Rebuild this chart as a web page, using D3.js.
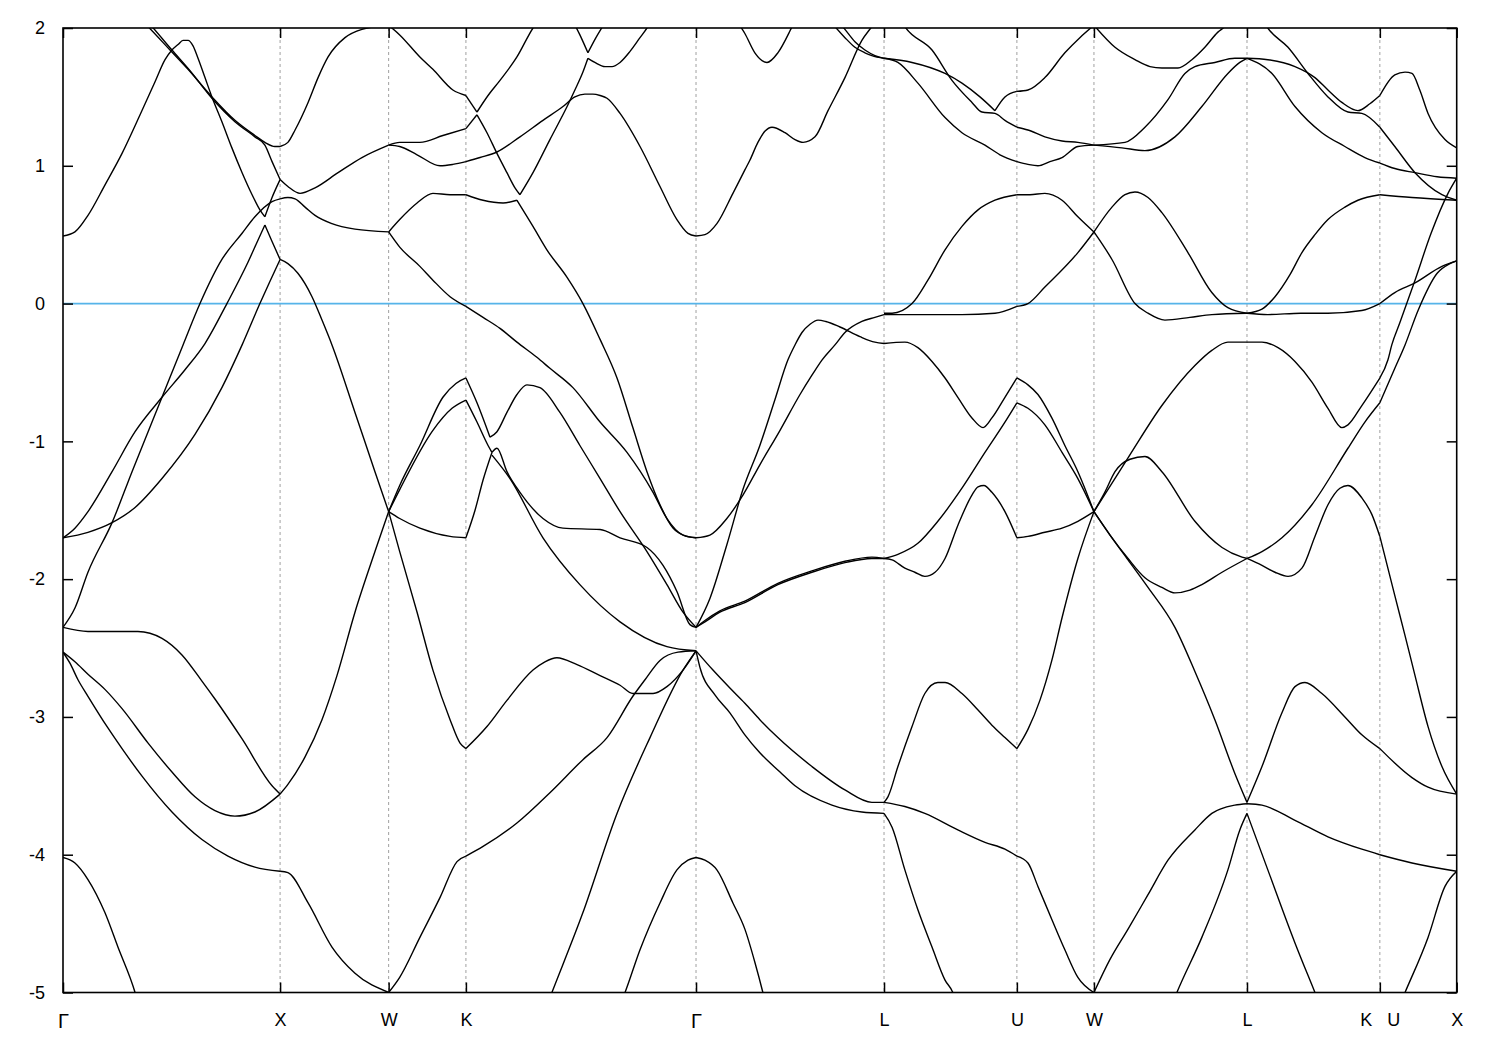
<!DOCTYPE html>
<html><head><meta charset="utf-8">
<script src="https://cdn.jsdelivr.net/npm/d3@7"></script>
<style>
body{margin:0;background:#fff}
text{font-family:"Liberation Sans",Arial,sans-serif;}
</style>
</head><body>
<svg id="chart" width="1500" height="1050"></svg>
<script>
// High-symmetry points (path distance, 2pi/a units) and labels
const kTicks  = [0, 1.0, 1.5, 1.856, 2.916, 3.782, 4.394, 4.749, 5.454, 6.066, 6.42];
const kLabels = ["Γ","X","W","K","Γ","L","U","W","L","K   U","X"];
const eTicks  = [2, 1, 0, -1, -2, -3, -4, -5];

// Bands, segment by segment: each curve is a list of [k, E(eV)]
const segGX = [
 [[0,0.49],[0.055,0.52],[0.115,0.64],[0.193,0.86],[0.272,1.09],[0.355,1.37],[0.424,1.61],[0.470,1.77],[0.502,1.84],[0.530,1.88],[0.553,1.91],[0.576,1.91],[0.599,1.87],[0.622,1.78],[0.654,1.64],[0.686,1.50],[0.732,1.32],[0.778,1.13],[0.825,0.95],[0.871,0.79],[0.907,0.68],[0.930,0.63]],
 [[0.930,0.63],[0.963,0.77],[1.0,0.90]],
 [[0.318,2.13],[0.392,2.01],[0.493,1.84],[0.576,1.70],[0.686,1.50],[0.792,1.33],[0.884,1.22],[0.930,1.17],[0.976,1.14],[1.0,1.14]],
 [[0.341,2.13],[0.410,2.01],[0.502,1.84],[0.585,1.69],[0.686,1.49],[0.792,1.32],[0.884,1.21],[0.930,1.15],[0.963,1.03],[1.0,0.90]],
 [[0,-2.35],[0.055,-2.21],[0.115,-1.95],[0.226,-1.59],[0.318,-1.22],[0.456,-0.68],[0.553,-0.30],[0.631,0.00],[0.732,0.32],[0.825,0.51],[0.884,0.63],[0.963,0.74],[1.0,0.76]],
 [[0,-1.70],[0.055,-1.63],[0.115,-1.51],[0.226,-1.22],[0.332,-0.93],[0.456,-0.68],[0.562,-0.48],[0.654,-0.29],[0.755,0.00],[0.852,0.30],[0.898,0.46],[0.930,0.57]],
 [[0.930,0.57],[0.963,0.45],[1.0,0.32]],
 [[0,-1.70],[0.115,-1.66],[0.226,-1.59],[0.332,-1.48],[0.456,-1.27],[0.608,-0.95],[0.732,-0.61],[0.825,-0.30],[0.907,0.00],[0.953,0.16],[1.0,0.32]],
 [[0,-2.35],[0.115,-2.38],[0.226,-2.38],[0.345,-2.38],[0.456,-2.43],[0.548,-2.55],[0.640,-2.74],[0.700,-2.87],[0.825,-3.16],[0.963,-3.50],[1.0,-3.56]],
 [[0,-2.53],[0.055,-2.60],[0.115,-2.69],[0.193,-2.80],[0.272,-2.94],[0.392,-3.19],[0.502,-3.40],[0.608,-3.58],[0.700,-3.68],[0.792,-3.72],[0.884,-3.69],[1.0,-3.56]],
 [[0,-2.53],[0.032,-2.61],[0.069,-2.73],[0.115,-2.85],[0.207,-3.08],[0.272,-3.23],[0.364,-3.43],[0.502,-3.69],[0.640,-3.89],[0.760,-4.01],[0.884,-4.09],[1.0,-4.12]],
 [[0,-4.02],[0.055,-4.06],[0.115,-4.18],[0.193,-4.42],[0.253,-4.67],[0.332,-5.00],[0.355,-5.13]]
];
const segXW = [
 [[1.0,1.14],[1.036,1.17],[1.069,1.26],[1.129,1.46],[1.175,1.64],[1.221,1.79],[1.299,1.93],[1.377,1.99],[1.5,2.02]],
 [[1.0,0.90],[1.036,0.85],[1.092,0.80],[1.161,0.84],[1.267,0.95],[1.377,1.06],[1.5,1.15]],
 [[1.0,0.76],[1.036,0.77],[1.069,0.76],[1.115,0.70],[1.161,0.64],[1.239,0.58],[1.345,0.54],[1.5,0.52]],
 [[1.0,0.32],[1.036,0.29],[1.082,0.22],[1.147,0.05],[1.193,-0.12],[1.239,-0.30],[1.345,-0.79],[1.437,-1.22],[1.5,-1.51]],
 [[1.0,-3.56],[1.036,-3.49],[1.115,-3.29],[1.193,-3.02],[1.262,-2.70],[1.345,-2.24],[1.437,-1.80],[1.5,-1.51]],
 [[1.0,-4.12],[1.036,-4.13],[1.129,-4.35],[1.239,-4.67],[1.345,-4.86],[1.5,-5.0]]
];
const segWK = [
 [[1.5,2.02],[1.551,1.95],[1.644,1.79],[1.704,1.70],[1.796,1.55],[1.856,1.51]],
 [[1.5,1.15],[1.551,1.17],[1.644,1.17],[1.750,1.22],[1.856,1.27]],
 [[1.5,1.15],[1.551,1.14],[1.631,1.08],[1.737,1.00],[1.796,1.01],[1.856,1.03]],
 [[1.5,0.52],[1.551,0.61],[1.631,0.73],[1.704,0.80],[1.783,0.79],[1.856,0.79]],
 [[1.5,0.52],[1.551,0.41],[1.644,0.27],[1.704,0.17],[1.783,0.05],[1.856,-0.02]],
 [[1.5,-1.51],[1.551,-1.32],[1.644,-1.03],[1.750,-0.68],[1.810,-0.58],[1.856,-0.54]],
 [[1.5,-1.51],[1.551,-1.35],[1.704,-0.92],[1.792,-0.76],[1.856,-0.70]],
 [[1.5,-1.51],[1.551,-1.56],[1.644,-1.63],[1.783,-1.69],[1.856,-1.70]],
 [[1.5,-1.51],[1.551,-1.80],[1.631,-2.24],[1.704,-2.66],[1.783,-3.02],[1.829,-3.19],[1.856,-3.23]],
 [[1.5,-5.0],[1.551,-4.89],[1.644,-4.60],[1.737,-4.31],[1.815,-4.05],[1.856,-4.01]]
];
const segKG = [
 [[1.856,1.51],[1.907,1.39]],
 [[1.907,1.39],[1.958,1.51],[2.013,1.62],[2.091,1.79],[2.165,2.00],[2.197,2.07]],
 [[1.856,1.27],[1.907,1.37]],
 [[1.907,1.37],[1.953,1.24],[1.999,1.09],[2.045,0.95],[2.082,0.84],[2.105,0.79]],
 [[2.105,0.79],[2.165,0.95],[2.243,1.19],[2.322,1.43],[2.358,1.55],[2.395,1.68],[2.418,1.78]],
 [[2.418,1.78],[2.450,1.75],[2.497,1.72],[2.529,1.72],[2.566,1.75],[2.612,1.83],[2.658,1.93],[2.690,2.00],[2.713,2.06]],
 [[2.345,2.06],[2.381,1.95],[2.418,1.82]],
 [[2.418,1.82],[2.455,1.93],[2.497,2.04]],
 [[1.856,1.03],[1.921,1.06],[1.999,1.10],[2.105,1.21],[2.211,1.33],[2.303,1.43],[2.358,1.50],[2.404,1.52],[2.441,1.52],[2.474,1.51],[2.506,1.49],[2.566,1.38],[2.658,1.14],[2.750,0.85],[2.828,0.61],[2.879,0.51],[2.916,0.49]],
 [[1.856,0.79],[1.935,0.75],[2.027,0.73],[2.091,0.75]],
 [[2.091,0.75],[2.165,0.56],[2.229,0.39],[2.322,0.19],[2.395,0.00],[2.474,-0.26],[2.552,-0.54],[2.625,-0.90],[2.690,-1.22],[2.750,-1.46],[2.810,-1.63],[2.874,-1.69],[2.916,-1.70]],
 [[1.856,-0.02],[1.935,-0.10],[2.013,-0.18],[2.091,-0.28],[2.183,-0.39],[2.243,-0.47],[2.349,-0.61],[2.474,-0.86],[2.598,-1.08],[2.718,-1.37],[2.782,-1.56],[2.856,-1.68],[2.916,-1.70]],
 [[1.856,-0.54],[1.907,-0.72],[1.967,-0.97]],
 [[1.967,-0.97],[1.999,-0.93],[2.045,-0.79],[2.091,-0.66],[2.137,-0.59],[2.197,-0.61],[2.289,-0.79],[2.381,-1.03],[2.474,-1.27],[2.566,-1.51],[2.690,-1.80],[2.782,-2.04],[2.856,-2.24],[2.916,-2.35]],
 [[1.856,-0.70],[1.907,-0.86],[1.958,-1.03],[1.976,-1.08]],
 [[1.976,-1.08],[1.999,-1.05],[2.045,-1.22],[2.105,-1.37],[2.211,-1.56],[2.303,-1.63],[2.474,-1.64],[2.566,-1.70],[2.690,-1.77],[2.764,-1.90],[2.828,-2.09],[2.888,-2.33],[2.916,-2.35]],
 [[1.856,-1.70],[1.898,-1.50],[1.935,-1.28],[1.976,-1.08]],
 [[1.976,-1.10],[2.059,-1.27],[2.211,-1.70],[2.381,-2.04],[2.566,-2.31],[2.782,-2.49],[2.916,-2.52]],
 [[1.856,-3.23],[1.953,-3.07],[2.045,-2.88],[2.165,-2.66],[2.220,-2.60],[2.275,-2.57],[2.368,-2.62],[2.474,-2.70],[2.566,-2.77],[2.625,-2.83],[2.658,-2.83],[2.718,-2.83],[2.782,-2.78],[2.856,-2.66],[2.916,-2.52]],
 [[1.856,-4.01],[1.935,-3.94],[2.091,-3.77],[2.243,-3.55],[2.395,-3.31],[2.506,-3.15],[2.625,-2.85],[2.681,-2.73],[2.750,-2.59],[2.833,-2.53],[2.916,-2.52]],
 [[2.220,-5.13],[2.252,-5.00],[2.395,-4.42],[2.552,-3.70],[2.704,-3.15],[2.856,-2.66],[2.916,-2.52]],
 [[2.556,-5.13],[2.589,-5.00],[2.658,-4.69],[2.750,-4.35],[2.828,-4.11],[2.879,-4.04],[2.916,-4.02]]
];
const segGL = [
 [[2.916,0.49],[2.957,0.50],[3.012,0.58],[3.086,0.80],[3.141,0.97],[3.164,1.04],[3.201,1.17],[3.233,1.25],[3.266,1.28],[3.326,1.24],[3.372,1.19],[3.409,1.17],[3.464,1.21],[3.524,1.40],[3.602,1.64],[3.680,1.91],[3.726,2.01],[3.754,2.07]],
 [[3.095,2.07],[3.141,1.96],[3.187,1.82],[3.243,1.75],[3.293,1.82],[3.349,1.98],[3.376,2.07]],
 [[3.524,2.07],[3.556,2.01],[3.602,1.93],[3.648,1.86],[3.694,1.82],[3.726,1.80],[3.782,1.78]],
 [[3.561,2.07],[3.602,1.99],[3.648,1.90],[3.694,1.84],[3.740,1.80],[3.782,1.78]],
 [[2.916,-1.70],[2.980,-1.68],[3.058,-1.56],[3.132,-1.39],[3.210,-1.17],[3.303,-0.92],[3.395,-0.66],[3.450,-0.52],[3.496,-0.41],[3.556,-0.30],[3.602,-0.21],[3.680,-0.13],[3.740,-0.10],[3.782,-0.08]],
 [[2.916,-2.35],[2.980,-2.14],[3.058,-1.75],[3.132,-1.35],[3.210,-1.03],[3.279,-0.70],[3.339,-0.41],[3.372,-0.30],[3.404,-0.21],[3.441,-0.15],[3.478,-0.12],[3.514,-0.13],[3.579,-0.17],[3.671,-0.24],[3.740,-0.28],[3.782,-0.29]],
 [[2.916,-2.35],[2.957,-2.31],[3.026,-2.24],[3.141,-2.17],[3.293,-2.04],[3.450,-1.95],[3.602,-1.88],[3.726,-1.85],[3.782,-1.85]],
 [[2.916,-2.35],[2.957,-2.30],[3.026,-2.23],[3.141,-2.16],[3.293,-2.03],[3.450,-1.94],[3.602,-1.87],[3.726,-1.84],[3.782,-1.85]],
 [[2.916,-2.52],[2.994,-2.66],[3.072,-2.79],[3.141,-2.90],[3.210,-3.02],[3.293,-3.15],[3.450,-3.36],[3.602,-3.53],[3.726,-3.62],[3.782,-3.62]],
 [[2.916,-2.52],[2.934,-2.64],[3.003,-2.84],[3.072,-2.97],[3.141,-3.13],[3.210,-3.26],[3.303,-3.40],[3.372,-3.50],[3.542,-3.64],[3.680,-3.69],[3.782,-3.70]],
 [[2.916,-4.02],[2.957,-4.04],[3.012,-4.11],[3.086,-4.35],[3.141,-4.54],[3.187,-4.78],[3.224,-5.00],[3.238,-5.09]]
];
const segLU = [
 [[3.782,1.78],[3.911,1.75],[4.063,1.67],[4.141,1.60],[4.224,1.50],[4.293,1.40]],
 [[4.293,1.40],[4.339,1.50],[4.394,1.54]],
 [[3.782,1.78],[3.846,1.75],[3.938,1.60],[4.063,1.35],[4.141,1.24],[4.247,1.15],[4.316,1.08],[4.394,1.03]],
 [[3.855,2.07],[3.878,2.01],[4.003,1.84],[4.095,1.62],[4.187,1.46],[4.233,1.39],[4.293,1.38],[4.339,1.33],[4.394,1.28]],
 [[3.782,-0.07],[3.819,-0.07],[3.911,0.00],[3.984,0.17],[4.063,0.39],[4.141,0.56],[4.215,0.68],[4.293,0.75],[4.394,0.79]],
 [[3.782,-0.08],[3.911,-0.08],[4.141,-0.08],[4.293,-0.07],[4.394,-0.02]],
 [[3.782,-0.29],[3.878,-0.28],[3.938,-0.32],[4.003,-0.42],[4.063,-0.54],[4.122,-0.68],[4.187,-0.83],[4.238,-0.90],[4.279,-0.83],[4.339,-0.68],[4.394,-0.54]],
 [[3.782,-1.85],[3.846,-1.82],[3.938,-1.74],[4.030,-1.58],[4.141,-1.34],[4.247,-1.08],[4.339,-0.86],[4.394,-0.72]],
 [[3.782,-1.85],[3.819,-1.86],[3.878,-1.92],[3.924,-1.95],[3.970,-1.98],[4.017,-1.95],[4.063,-1.85],[4.122,-1.61],[4.187,-1.39],[4.215,-1.33],[4.242,-1.32],[4.279,-1.37],[4.339,-1.51],[4.394,-1.70]],
 [[3.782,-3.62],[3.800,-3.58],[3.846,-3.36],[3.911,-3.07],[3.970,-2.83],[4.030,-2.75],[4.063,-2.75],[4.141,-2.83],[4.215,-2.95],[4.279,-3.06],[4.339,-3.15],[4.394,-3.23]],
 [[3.782,-3.62],[3.878,-3.65],[3.970,-3.70],[4.122,-3.82],[4.247,-3.91],[4.339,-3.96],[4.394,-4.01]],
 [[3.782,-3.70],[3.819,-3.80],[3.878,-4.11],[3.938,-4.40],[4.003,-4.67],[4.063,-4.91],[4.099,-5.00],[4.118,-5.09]]
];
const segUW = [
 [[4.394,1.54],[4.445,1.55],[4.523,1.64],[4.615,1.82],[4.684,1.93],[4.749,2.02]],
 [[4.394,1.28],[4.445,1.26],[4.523,1.21],[4.602,1.18],[4.675,1.17],[4.749,1.15]],
 [[4.394,1.03],[4.445,1.01],[4.491,1.00],[4.546,1.03],[4.602,1.06],[4.675,1.14],[4.749,1.15]],
 [[4.394,0.79],[4.454,0.79],[4.523,0.80],[4.602,0.75],[4.675,0.63],[4.749,0.52]],
 [[4.394,-0.02],[4.445,0.00],[4.523,0.12],[4.675,0.37],[4.749,0.52]],
 [[4.394,-0.54],[4.445,-0.59],[4.491,-0.66],[4.555,-0.83],[4.615,-1.03],[4.675,-1.22],[4.749,-1.51]],
 [[4.394,-0.72],[4.445,-0.76],[4.523,-0.88],[4.602,-1.08],[4.675,-1.27],[4.749,-1.51]],
 [[4.394,-1.70],[4.445,-1.69],[4.523,-1.66],[4.602,-1.63],[4.675,-1.58],[4.749,-1.51]],
 [[4.394,-3.23],[4.445,-3.09],[4.500,-2.88],[4.555,-2.59],[4.602,-2.28],[4.675,-1.85],[4.749,-1.51]],
 [[4.394,-4.01],[4.445,-4.06],[4.491,-4.23],[4.555,-4.47],[4.615,-4.69],[4.675,-4.89],[4.749,-5.00]]
];
const segWL = [
 [[4.749,2.02],[4.846,1.86],[4.938,1.77],[5.007,1.72],[5.062,1.71],[5.136,1.71],[5.200,1.77],[5.260,1.86],[5.320,1.97],[5.352,2.01],[5.384,2.07]],
 [[4.749,1.15],[4.892,1.17],[4.984,1.28],[5.090,1.48],[5.168,1.67],[5.214,1.72],[5.306,1.75],[5.398,1.78],[5.454,1.78]],
 [[4.749,1.15],[4.878,1.13],[4.984,1.11],[5.122,1.21],[5.246,1.43],[5.366,1.67],[5.421,1.75],[5.454,1.78]],
 [[4.749,0.52],[4.832,0.70],[4.892,0.79],[4.938,0.81],[4.998,0.77],[5.062,0.66],[5.182,0.37],[5.292,0.08],[5.366,-0.03],[5.454,-0.07]],
 [[4.749,0.52],[4.832,0.32],[4.938,0.00],[4.998,-0.07],[5.076,-0.12],[5.191,-0.10],[5.292,-0.08],[5.454,-0.07]],
 [[4.749,-1.51],[4.906,-1.12],[5.062,-0.74],[5.214,-0.45],[5.292,-0.34],[5.366,-0.28],[5.454,-0.28]],
 [[4.749,-1.51],[4.799,-1.37],[4.846,-1.22],[4.915,-1.13],[4.984,-1.11],[5.062,-1.22],[5.214,-1.58],[5.339,-1.77],[5.431,-1.84],[5.454,-1.85]],
 [[4.749,-1.51],[4.823,-1.68],[4.906,-1.85],[4.984,-1.99],[5.062,-2.06],[5.122,-2.10],[5.191,-2.08],[5.246,-2.04],[5.339,-1.95],[5.454,-1.85]],
 [[4.749,-1.51],[4.823,-1.68],[4.906,-1.86],[4.998,-2.06],[5.122,-2.35],[5.214,-2.67],[5.306,-3.02],[5.398,-3.41],[5.454,-3.62]],
 [[4.749,-5.00],[4.823,-4.76],[4.906,-4.54],[4.998,-4.29],[5.090,-4.04],[5.214,-3.82],[5.292,-3.70],[5.398,-3.64],[5.454,-3.63]],
 [[5.108,-5.09],[5.131,-5.00],[5.246,-4.60],[5.366,-4.11],[5.421,-3.82],[5.454,-3.70]]
];
const segLK = [
 [[5.454,1.78],[5.550,1.77],[5.675,1.72],[5.767,1.64],[5.827,1.55],[5.891,1.46],[5.965,1.40],[6.020,1.45],[6.066,1.51]],
 [[5.454,1.78],[5.569,1.67],[5.675,1.43],[5.799,1.24],[5.905,1.14],[5.997,1.06],[6.066,1.02]],
 [[5.523,2.07],[5.550,2.00],[5.643,1.86],[5.735,1.67],[5.827,1.50],[5.919,1.39],[5.983,1.38],[6.066,1.28]],
 [[5.454,-0.07],[5.523,-0.04],[5.583,0.05],[5.652,0.21],[5.707,0.37],[5.767,0.50],[5.827,0.61],[5.905,0.70],[5.965,0.75],[6.066,0.79]],
 [[5.454,-0.07],[5.550,-0.08],[5.702,-0.07],[5.827,-0.07],[5.983,-0.05],[6.066,0.00]],
 [[5.454,-0.28],[5.523,-0.28],[5.597,-0.32],[5.675,-0.42],[5.753,-0.57],[5.827,-0.76],[5.891,-0.90],[5.919,-0.88],[5.983,-0.74],[6.066,-0.54]],
 [[5.454,-1.85],[5.523,-1.90],[5.583,-1.95],[5.643,-1.98],[5.707,-1.92],[5.767,-1.69],[5.827,-1.46],[5.882,-1.34],[5.919,-1.32],[5.983,-1.41],[6.029,-1.53],[6.066,-1.69]],
 [[5.454,-1.85],[5.523,-1.80],[5.615,-1.70],[5.753,-1.46],[5.919,-1.05],[5.997,-0.86],[6.066,-0.72]],
 [[5.454,-3.62],[5.523,-3.36],[5.615,-2.97],[5.675,-2.78],[5.721,-2.75],[5.799,-2.83],[5.905,-3.00],[5.983,-3.13],[6.066,-3.23]],
 [[5.454,-3.63],[5.523,-3.64],[5.675,-3.75],[5.827,-3.87],[5.983,-3.96],[6.066,-4.00]],
 [[5.454,-3.70],[5.550,-4.11],[5.675,-4.64],[5.767,-5.00],[5.790,-5.09]]
];
const segUX = [
 [[6.066,1.51],[6.135,1.66],[6.182,1.68],[6.214,1.67],[6.250,1.55],[6.288,1.38],[6.366,1.19],[6.42,1.13]],
 [[6.066,1.02],[6.135,0.98],[6.228,0.95],[6.330,0.92],[6.42,0.91]],
 [[6.066,1.28],[6.135,1.14],[6.228,0.95],[6.352,0.79],[6.42,0.75]],
 [[6.066,0.79],[6.214,0.77],[6.42,0.75]],
 [[6.066,0.00],[6.135,0.08],[6.228,0.15],[6.352,0.27],[6.42,0.31]],
 [[6.066,-0.54],[6.103,-0.41],[6.121,-0.30],[6.158,-0.14],[6.228,0.17],[6.302,0.51],[6.380,0.80],[6.42,0.91]],
 [[6.066,-0.72],[6.135,-0.47],[6.182,-0.30],[6.242,-0.05],[6.330,0.22],[6.389,0.29],[6.42,0.31]],
 [[6.066,-1.69],[6.135,-2.12],[6.182,-2.41],[6.228,-2.70],[6.288,-3.07],[6.352,-3.36],[6.42,-3.56]],
 [[6.066,-3.23],[6.214,-3.44],[6.288,-3.51],[6.42,-3.56]],
 [[6.066,-4.00],[6.214,-4.06],[6.42,-4.12]],
 [[6.158,-5.09],[6.182,-5.00],[6.288,-4.60],[6.366,-4.23],[6.42,-4.12]]
];

const curves = [].concat(segGX, segXW, segWK, segKG, segGL, segLU, segUW, segWL, segLK, segUX);

const svg = d3.select("#chart");
const L = 63, R = 1456.7, T = 28, B = 992.5;
const x = d3.scaleLinear().domain([kTicks[0], kTicks[kTicks.length-1]]).range([L, R]);
const y = d3.scaleLinear().domain([-5, 2]).range([B, T]);

svg.append("defs").append("clipPath").attr("id","plotclip")
  .append("rect").attr("x",L).attr("y",T).attr("width",R-L).attr("height",B-T);

// vertical dashed lines at interior symmetry points
svg.append("g").selectAll("line").data(kTicks.slice(1,-1)).join("line")
  .attr("x1",d=>x(d)).attr("x2",d=>x(d)).attr("y1",T).attr("y2",B)
  .attr("stroke","#a0a0a0").attr("stroke-width",1).attr("stroke-dasharray","3,3");

// Fermi level
svg.append("line").attr("x1",L).attr("x2",R).attr("y1",y(0)).attr("y2",y(0))
  .attr("stroke","#56b4e9").attr("stroke-width",1.8);

const line = d3.line().x(d=>x(d[0])).y(d=>y(d[1])).curve(d3.curveMonotoneX);
svg.append("g").attr("clip-path","url(#plotclip)")
  .selectAll("path").data(curves).join("path")
  .attr("d",line).attr("fill","none").attr("stroke","#000")
  .attr("stroke-width",1.4).attr("stroke-linejoin","round");

// axes
const yl = svg.append("g").attr("transform",`translate(${L},0)`)
  .call(d3.axisLeft(y).tickValues(eTicks).tickFormat(d=>String(d)).tickSizeInner(-10).tickSizeOuter(0).tickPadding(18));
const yr = svg.append("g").attr("transform",`translate(${R},0)`)
  .call(d3.axisRight(y).tickValues(eTicks).tickFormat("").tickSizeInner(-10).tickSizeOuter(0));
const xb = svg.append("g").attr("transform",`translate(0,${B})`)
  .call(d3.axisBottom(x).tickValues(kTicks).tickFormat((d,i)=>kLabels[i]).tickSizeInner(-10).tickSizeOuter(0).tickPadding(21));
const xt = svg.append("g").attr("transform",`translate(0,${T})`)
  .call(d3.axisTop(x).tickValues(kTicks).tickFormat("").tickSizeInner(-10).tickSizeOuter(0));
[yl,yr,xb,xt].forEach(g=>{
  g.select(".domain").remove();
  g.selectAll(".tick line").attr("stroke","#000").attr("stroke-width",1.5);
  g.selectAll("text").attr("font-family","'Liberation Sans',Arial,sans-serif").attr("font-size",18).attr("fill","#000");
});
xb.selectAll("text").style("white-space","pre");
xb.selectAll("text").filter(function(){ return this.textContent === "Γ"; })
  .attr("font-family","'Liberation Serif','DejaVu Serif',serif").attr("font-size",20);

// frame
svg.append("rect").attr("x",L).attr("y",T).attr("width",R-L).attr("height",B-T)
  .attr("fill","none").attr("stroke","#000").attr("stroke-width",1.6);
</script>
</body></html>
